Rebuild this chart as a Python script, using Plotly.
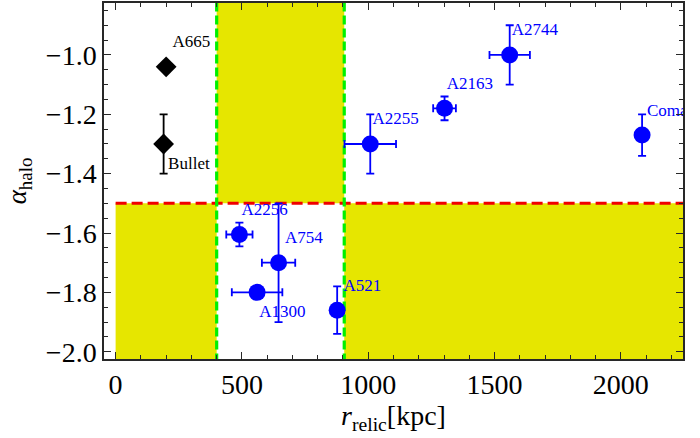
import plotly.graph_objects as go

# --- data ---
black_names = ["A665", "Bullet"]
black_r = [200, 190]
black_alpha = [-1.04, -1.30]
black_alpha_err = [0.01, 0.10]
black_label_dy = [0.08, -0.07]

blue_names = ["A2256", "A754", "A1300", "A521", "A2255", "A2163", "A2744", "Coma"]
blue_r = [490, 645, 560, 877, 1008, 1302, 1560, 2084]
blue_r_err = [52, 66, 100, 0, 102, 45, 80, 0]
blue_alpha = [-1.605, -1.70, -1.80, -1.86, -1.30, -1.18, -1.00, -1.27]
blue_alpha_err = [0.04, 0.20, 0.0, 0.08, 0.10, 0.04, 0.10, 0.07]
blue_label_dy = [0.08, 0.08, -0.07, 0.08, 0.08, 0.08, 0.08, 0.08]

alpha_cut = -1.5
r_band = [400, 905]
x_range = [-46, 2246]
y_range = [-2.0245, -0.825]
label_dx = 100

SERIF = "Liberation Serif, Times New Roman, serif"
YELLOW = "rgb(230,230,0)"
GREEN = "rgb(0,240,0)"

fig = go.Figure()

# shaded regions
shapes = [
    dict(type="rect", xref="x", yref="y", x0=0, x1=r_band[0], y0=-3, y1=alpha_cut,
         fillcolor=YELLOW, line_width=0, layer="below"),
    dict(type="rect", xref="x", yref="y", x0=r_band[0], x1=r_band[1], y0=alpha_cut, y1=0,
         fillcolor=YELLOW, line_width=0, layer="below"),
    dict(type="rect", xref="x", yref="y", x0=r_band[1], x1=3000, y0=-3, y1=alpha_cut,
         fillcolor=YELLOW, line_width=0, layer="below"),
    dict(type="line", xref="x", yref="y", x0=0, x1=3000, y0=alpha_cut, y1=alpha_cut,
         line=dict(color="rgb(240,0,0)", width=3, dash="11px,5px"), layer="below"),
]
for xb in r_band:
    shapes.append(dict(type="line", xref="x", yref="y", x0=xb, x1=xb, y0=-3, y1=0,
                       line=dict(color=GREEN, width=3.2, dash="9px,4px"), layer="below"))
fig.update_layout(shapes=shapes)

# black diamonds
fig.add_trace(go.Scatter(
    x=black_r, y=black_alpha, mode="markers",
    marker=dict(symbol="diamond", size=16, color="black"),
    error_y=dict(type="data", array=black_alpha_err, color="black", thickness=1.8, width=4),
    cliponaxis=False, showlegend=False))

# blue circles
fig.add_trace(go.Scatter(
    x=blue_r, y=blue_alpha, mode="markers",
    marker=dict(symbol="circle", size=17, color="rgb(0,0,255)"),
    error_y=dict(type="data", array=blue_alpha_err, color="rgb(0,0,255)", thickness=1.8, width=4),
    error_x=dict(type="data", array=blue_r_err, color="rgb(0,0,255)", thickness=1.8, width=4),
    cliponaxis=True, showlegend=False))

# labels
fig.add_trace(go.Scatter(
    x=[r + label_dx for r in black_r],
    y=[a + d for a, d in zip(black_alpha, black_label_dy)],
    mode="text", text=black_names, textposition="middle center",
    textfont=dict(family=SERIF, size=17, color="black"),
    cliponaxis=True, showlegend=False))
fig.add_trace(go.Scatter(
    x=[r + label_dx for r in blue_r],
    y=[a + d for a, d in zip(blue_alpha, blue_label_dy)],
    mode="text", text=blue_names, textposition="middle center",
    textfont=dict(family=SERIF, size=17, color="rgb(0,0,255)"),
    cliponaxis=True, showlegend=False))

axis_common = dict(
    showgrid=False, zeroline=False, showline=True, linecolor="rgb(40,40,40)", linewidth=1.5,
    mirror="ticks", ticks="inside", ticklen=7, tickwidth=1.2, tickcolor="rgb(40,40,40)",
    tickfont=dict(family=SERIF, size=28, color="black"),
)

fig.update_xaxes(
    range=x_range, tickmode="linear", tick0=0, dtick=500,
    minor=dict(dtick=100, ticks="inside", ticklen=4, tickcolor="rgb(40,40,40)", tickwidth=1),
    title=dict(text="<i>r</i><sub>relic</sub>[kpc]", font=dict(family=SERIF, size=28, color="black"),
               standoff=6),
    **axis_common)
fig.update_yaxes(
    range=y_range, tickmode="linear", tick0=-2.0, dtick=0.2, tickformat=".1f",
    minor=dict(dtick=0.05, ticks="inside", ticklen=4, tickcolor="rgb(40,40,40)", tickwidth=1),
    title=dict(text="<i>α</i><sub>halo</sub>", font=dict(family=SERIF, size=27, color="black"),
               standoff=11),
    **axis_common)

fig.update_layout(
    width=700, height=438, autosize=False,
    margin=dict(l=104, r=17, t=1, b=79),
    plot_bgcolor="white", paper_bgcolor="white",
)

fig.write_html("out.html", config={"displayModeBar": False},
               post_script="document.body.style.margin='0';")
